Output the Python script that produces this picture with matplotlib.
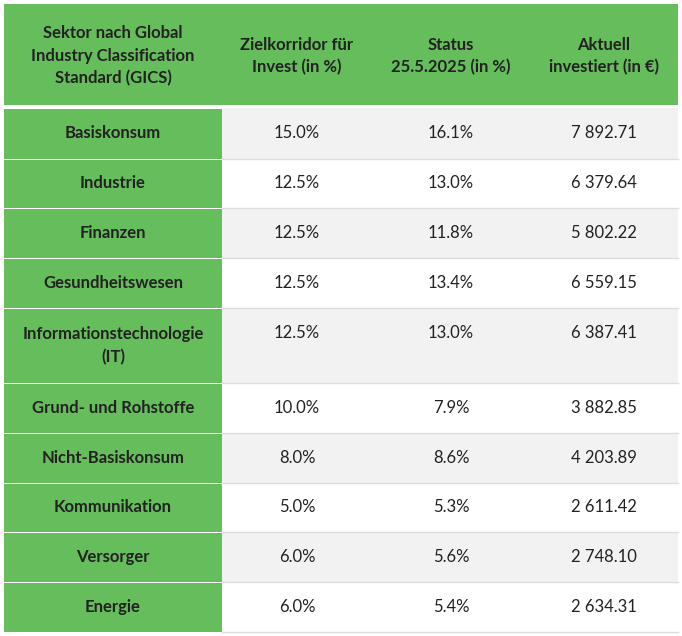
import matplotlib
matplotlib.use("Agg")
import matplotlib.pyplot as plt
from matplotlib.patches import Rectangle

headers = ["Sektor nach Global\nIndustry Classification\nStandard (GICS)",
           "Zielkorridor für\nInvest (in %)",
           "Status\n25.5.2025 (in %)",
           "Aktuell\ninvestiert (in €)"]
sectors = ["Basiskonsum", "Industrie", "Finanzen", "Gesundheitswesen",
           "Informationstechnologie\n(IT)", "Grund- und Rohstoffe",
           "Nicht-Basiskonsum", "Kommunikation", "Versorger", "Energie"]
target = ["15.0%", "12.5%", "12.5%", "12.5%", "12.5%", "10.0%", "8.0%", "5.0%", "6.0%", "6.0%"]
status = ["16.1%", "13.0%", "11.8%", "13.4%", "13.0%", "7.9%", "8.6%", "5.3%", "5.6%", "5.4%"]
invested = ["7 892.71", "6 379.64", "5 802.22", "6 559.15", "6 387.41",
            "3 882.85", "4 203.89", "2 611.42", "2 748.10", "2 634.31"]

W, H = 682, 636
fig = plt.figure(figsize=(W/100, H/100), dpi=100)
ax = fig.add_axes([0, 0, 1, 1])
ax.set_xlim(0, W); ax.set_ylim(H, 0); ax.axis("off")

green = "#66bd5b"
txt = "#222222"
font = "Lato"
x0, xr = 4, 678
cols = [4, 222, 372, 530, 678]
centers = [(cols[i] + cols[i+1]) / 2 for i in range(4)]

# header
ax.add_patch(Rectangle((x0, 4), xr - x0, 101, color=green, lw=0))
for c, h in zip(centers, headers):
    ax.text(c, 56, h, ha="center", va="center", fontsize=12, fontweight="bold",
            color=txt, family=font, linespacing=1.5)

bounds = [108, 159, 208, 258, 308, 383, 433, 483, 532, 582, 632]
for i in range(10):
    top, bot = bounds[i], bounds[i+1]
    bg = "#f2f2f2" if i % 2 == 0 else "white"
    ax.add_patch(Rectangle((cols[1], top), xr - cols[1], bot - top, color=bg, lw=0))
    ax.add_patch(Rectangle((x0, top + 1), cols[1] - x0, bot - top - 1, color=green, lw=0))
    if i > 0:
        ax.plot([cols[1], xr], [top, top], color="#dddddd", lw=1)
    mid = (top + bot) / 2
    ax.text(centers[0], mid, sectors[i], ha="center", va="center", fontsize=12,
            fontweight="bold", color=txt, family=font, linespacing=1.5)
    ymid = mid if "\n" not in sectors[i] else top + 25
    for c, v in zip(centers[1:], [target[i], status[i], invested[i]]):
        ax.text(c, ymid, v, ha="center", va="center", fontsize=12, color=txt, family=font)
ax.plot([cols[1], xr], [632, 632], color="#dddddd", lw=1)

fig.savefig("out.png", dpi=100)
